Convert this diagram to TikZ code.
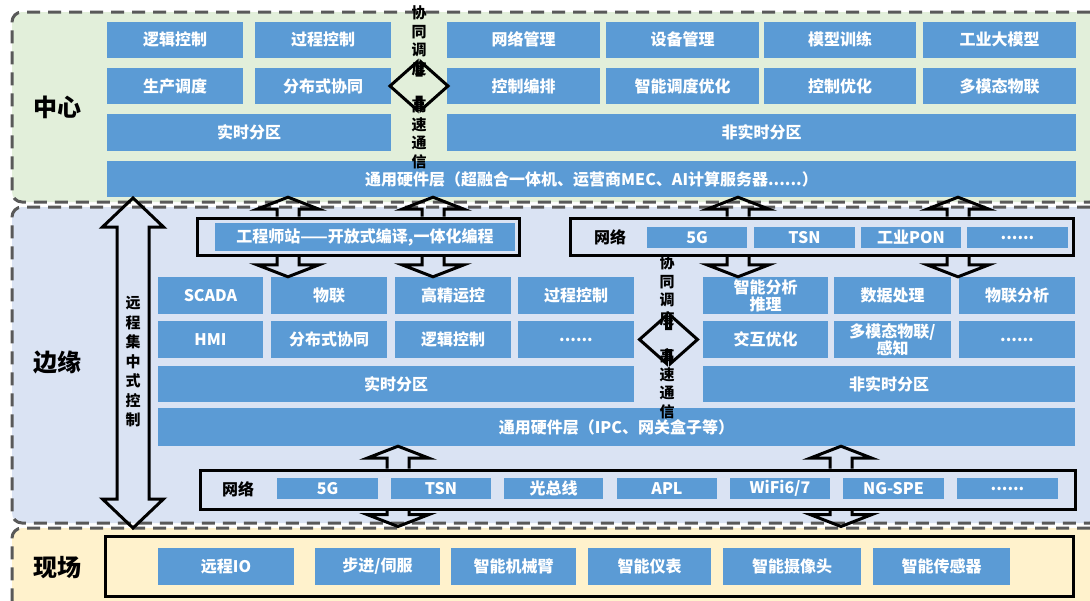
\documentclass[tikz,border=0pt]{standalone}
\usepackage{fontspec}
\setmainfont{Noto Sans CJK SC}
\usepackage{tikz}
\usetikzlibrary{calc}
\usepackage{xcolor}
\definecolor{boxblue}{HTML}{5B9BD5}
\definecolor{ctrgreen}{HTML}{E2EFDA}
\definecolor{edgeblue}{HTML}{DAE3F3}
\definecolor{fieldyellow}{HTML}{FFF2CC}
\definecolor{dashgray}{HTML}{595959}

% block arrow: #1 start on a box edge, #2 node whose y is the tip, #3 = 1 down / -1 up
\newcommand{\blkarrow}[3]{%
  \draw[blkline] let \p1=(#1), \p2=(#2) in
    (\x1-11pt,\y1) -- (\x1-11pt,{\y2+(#3)*12pt}) -- (\x1-31pt,{\y2+(#3)*12pt})
    -- (\x1,\y2) -- (\x1+31pt,{\y2+(#3)*12pt}) -- (\x1+11pt,{\y2+(#3)*12pt}) -- (\x1+11pt,\y1);}
% flat left-right arrow between two partitions
\newcommand{\syncarrow}[1]{%
  \draw[blkline] (#1) ++(-29,0) -- ++(27,-24) -- ++(0,13) -- ++(4,0) -- ++(0,-13)
    -- ++(27,24) -- ++(-27,24) -- ++(0,-13) -- ++(-4,0) -- ++(0,13) -- cycle;}

\begin{document}
\begin{tikzpicture}[
    x=1pt, y=-1pt,
    layer/.style={draw=dashgray, line width=3pt, dash pattern=on 13pt off 8pt, rounded corners=10pt, minimum width=1088pt, inner sep=0pt},
    blk/.style={fill=boxblue, text=white, font=\bfseries\fontsize{16}{17}\selectfont, inner sep=0pt, align=center, minimum height=36pt},
    netbox/.style={draw=black, line width=3pt, inner sep=0pt},
    laylab/.style={font=\bfseries\fontsize{24}{26}\selectfont, text=black},
    vtext/.style={font=\bfseries\fontsize{15}{18.6}\selectfont, align=center, inner sep=0pt},
    blkline/.style={draw=black, line width=3pt, line join=miter},
]
    \useasboundingbox (0,0) rectangle (1090,600);
    \clip (0,0) rectangle (1090,600);
    \fill[white] (0,0) rectangle (1090,600);

    % layers
    \node[layer, fill=ctrgreen, minimum height=190pt] (ctrL) at (556,107) {};
    \node[layer, fill=edgeblue, minimum height=316pt] (edgeL) at (556,365) {};
    \node[layer, fill=fieldyellow, minimum height=92pt] (fieldL) at (556,574) {};
    \node[laylab] (ctrLab) at (58,107) {中心};
    \node[laylab] (edgeLab) at (58,362) {边缘};
    \node[laylab] (fieldLab) at (58,568) {现场};

    % center
    \node[blk, minimum width=136pt] (c11) at (175,39.5) {逻辑控制};
    \node[blk, minimum width=136pt] (c12) at (323,39.5) {过程控制};
    \node[blk, minimum width=153pt] (c13) at (523.5,39.5) {网络管理};
    \node[blk, minimum width=153pt] (c14) at (682.5,39.5) {设备管理};
    \node[blk, minimum width=152pt] (c15) at (840,39.5) {模型训练};
    \node[blk, minimum width=153pt] (c16) at (999.5,39.5) {工业大模型};
    \node[blk, minimum width=136pt] (c21) at (175,86) {生产调度};
    \node[blk, minimum width=136pt] (c22) at (323,86) {分布式协同};
    \node[blk, minimum width=153pt] (c23) at (523.5,86) {控制编排};
    \node[blk, minimum width=153pt] (c24) at (682.5,86) {智能调度优化};
    \node[blk, minimum width=152pt] (c25) at (840,86) {控制优化};
    \node[blk, minimum width=153pt] (c26) at (999.5,86) {多模态物联};
    \node[blk, minimum width=284pt, minimum height=37pt] (rtC) at (249,132.5) {实时分区};
    \node[blk, minimum width=629pt, minimum height=37pt] (nrtC) at (761.5,132.5) {非实时分区};
    \node[blk, minimum width=969pt] (hwC) at (591.5,179) {通用硬件层（超融合一体机、运营商MEC、AI计算服务器......）};
    \node[vtext] (syncCtxt) at (419,87.5) {协\\同\\调\\度\\[18.6pt]高\\速\\通\\信};
    \syncarrow{$(c22.east)!0.5!(c23.west)$}

    % edge
    \node[netbox, minimum width=322pt, minimum height=37pt] (station) at (358,236.5) {};
    \node[blk, minimum width=300pt, minimum height=28pt] (stationIn) at (365,237) {工程师站——开放式编译,一体化编程};
    \node[netbox, minimum width=503pt, minimum height=37pt] (netT) at (821.5,236.5) {};
    \node[font=\bfseries\fontsize{16}{17}\selectfont] (netTlab) at (610,237) {网络};
    \node[blk, minimum width=100pt, minimum height=21pt] (nt1) at (697,237.5) {5G};
    \node[blk, minimum width=101pt, minimum height=21pt] (nt2) at (804.5,237.5) {TSN};
    \node[blk, minimum width=100pt, minimum height=21pt] (nt3) at (911,237.5) {工业PON};
    \node[blk, minimum width=101pt, minimum height=21pt] (nt4) at (1017.5,237.5) {......};

    \node[blk, minimum width=105pt, minimum height=37pt] (e11) at (210.5,295.5) {SCADA};
    \node[blk, minimum width=116pt, minimum height=37pt] (e12) at (329,295.5) {物联};
    \node[blk, minimum width=116pt, minimum height=37pt] (e13) at (453,295.5) {高精运控};
    \node[blk, minimum width=116pt, minimum height=37pt] (e14) at (576,295.5) {过程控制};
    \node[blk, minimum width=125pt, minimum height=37pt] (e15) at (765.5,295.5) {智能分析\\推理};
    \node[blk, minimum width=117pt, minimum height=37pt] (e16) at (892.5,295.5) {数据处理};
    \node[blk, minimum width=116pt, minimum height=37pt] (e17) at (1017,295.5) {物联分析};
    \node[blk, minimum width=105pt, minimum height=37pt] (e21) at (210.5,339.5) {HMI};
    \node[blk, minimum width=116pt, minimum height=37pt] (e22) at (329,339.5) {分布式协同};
    \node[blk, minimum width=116pt, minimum height=37pt] (e23) at (453,339.5) {逻辑控制};
    \node[blk, minimum width=116pt, minimum height=37pt] (e24) at (576,339.5) {......};
    \node[blk, minimum width=125pt, minimum height=37pt] (e25) at (765.5,339.5) {交互优化};
    \node[blk, minimum width=117pt, minimum height=37pt] (e26) at (892.5,339.5) {多模态物联/\\感知};
    \node[blk, minimum width=116pt, minimum height=37pt] (e27) at (1017,339.5) {......};
    \node[blk, minimum width=476pt] (rtE) at (396,384) {实时分区};
    \node[blk, minimum width=372pt] (nrtE) at (889,384) {非实时分区};
    \node[blk, minimum width=917pt, minimum height=38pt] (hwE) at (616.5,427) {通用硬件层（IPC、网关盒子等）};
    \node[vtext] (syncEtxt) at (667,337.5) {协\\同\\调\\度\\[18.6pt]高\\速\\通\\信};
    \syncarrow{$(e24.east)!0.5!(e25.west)$}

    \node[netbox, minimum width=875pt, minimum height=39pt] (netB) at (637.5,489.5) {};
    \node[font=\bfseries\fontsize{16}{17}\selectfont] (netBlab) at (238,489.5) {网络};
    \node[blk, minimum width=101pt, minimum height=21pt] (nb1) at (327.5,488.5) {5G};
    \node[blk, minimum width=100pt, minimum height=21pt] (nb2) at (441,488.5) {TSN};
    \node[blk, minimum width=99pt, minimum height=21pt] (nb3) at (553.5,488.5) {光总线};
    \node[blk, minimum width=100pt, minimum height=21pt] (nb4) at (667,488.5) {APL};
    \node[blk, minimum width=100pt, minimum height=21pt] (nb5) at (780,488.5) {WiFi6/7};
    \node[blk, minimum width=101pt, minimum height=21pt] (nb6) at (893.5,488.5) {NG-SPE};
    \node[blk, minimum width=101pt, minimum height=21pt] (nb7) at (1007.5,488.5) {......};

    % field
    \node[netbox, minimum width=968pt, minimum height=60pt] (fieldBox) at (589,566) {};
    \node[blk, minimum width=136pt, minimum height=37pt] (f1) at (226,566.5) {远程IO};
    \node[blk, minimum width=125pt, minimum height=37pt] (f2) at (377.5,566.5) {步进/伺服};
    \node[blk, minimum width=125pt, minimum height=37pt] (f3) at (513.5,566.5) {智能机械臂};
    \node[blk, minimum width=123pt, minimum height=37pt] (f4) at (649.5,566.5) {智能仪表};
    \node[blk, minimum width=138pt, minimum height=37pt] (f5) at (792,566.5) {智能摄像头};
    \node[blk, minimum width=137pt, minimum height=37pt] (f6) at (941.5,566.5) {智能传感器};

    % block arrows between layers
    \blkarrow{[xshift=-70pt]station.north}{hwC.south}{-1}
    \blkarrow{[xshift=75pt]station.north}{hwC.south}{-1}
    \blkarrow{[xshift=-70pt]station.south}{e12.north}{1}
    \blkarrow{[xshift=75pt]station.south}{e12.north}{1}
    \blkarrow{[xshift=-83.5pt]netT.north}{hwC.south}{-1}
    \blkarrow{[xshift=136.5pt]netT.north}{hwC.south}{-1}
    \blkarrow{[xshift=-83.5pt]netT.south}{e15.north}{1}
    \blkarrow{[xshift=136.5pt]netT.south}{e15.north}{1}
    \blkarrow{[xshift=-239.5pt]netB.north}{hwE.south}{-1}
    \blkarrow{[xshift=203.5pt]netB.north}{hwE.south}{-1}
    \blkarrow{[xshift=-239.5pt]netB.south}{fieldL.north}{1}
    \blkarrow{[xshift=203.5pt]netB.south}{fieldL.north}{1}

    % remote centralized control
    \coordinate (rcTop) at (133,198);
    \coordinate (rcBot) at (133,528);
    \draw[blkline] (rcTop) -- ++(30.5,29) -- ++(-14.5,0) -- ($(rcBot)+(16,-29)$) -- ++(14.5,0) -- (rcBot)
      -- ++(-30.5,-29) -- ++(14.5,0) -- ($(rcTop)+(-16,29)$) -- ++(-14.5,0) -- cycle;
    \node[vtext, font=\bfseries\fontsize{15}{19.5}\selectfont] (rcText) at (133,362) {远\\程\\集\\中\\式\\控\\制};
\end{tikzpicture}
\end{document}
